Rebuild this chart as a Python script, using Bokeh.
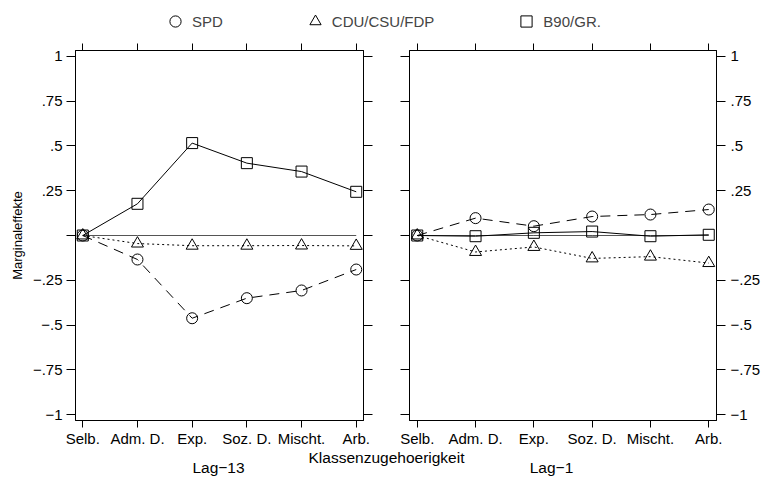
from bokeh.plotting import figure
from bokeh.models import (Range1d, FixedTicker, LinearAxis, Legend, LegendItem, Label)
from bokeh.layouts import column, row
from bokeh.embed import file_html
from bokeh.resources import INLINE

# ---------------- data ----------------
categories = ["Selb.", "Adm. D.", "Exp.", "Soz. D.", "Mischt.", "Arb."]
panel_titles = ["Lag\u221213", "Lag\u22121"]
series_names = ["SPD", "CDU/CSU/FDP", "B90/GR."]

lag13_spd = [0.0, -0.134, -0.462, -0.350, -0.307, -0.190]
lag13_cdu = [0.0, -0.045, -0.057, -0.057, -0.056, -0.058]
lag13_b90 = [0.0, 0.177, 0.516, 0.404, 0.357, 0.244]

lag1_spd = [0.0, 0.097, 0.052, 0.106, 0.117, 0.145]
lag1_cdu = [0.0, -0.092, -0.064, -0.128, -0.118, -0.154]
lag1_b90 = [0.0, -0.004, 0.015, 0.022, -0.004, 0.004]

reference = [0.0, 0.0, 0.0, 0.0, 0.0, 0.0]

y_ticks = [-1, -0.75, -0.5, -0.25, 0, 0.25, 0.5, 0.75, 1]
y_tick_labels = ["\u22121", "\u2212.75", "\u2212.5", "\u2212.25", "", ".25", ".5", ".75", "1"]

x_label = "Klassenzugehoerigkeit"
y_label = "Marginaleffekte"

FONT = "Liberation Sans"
xs = list(range(len(categories)))
nan = float("nan")


def style_axis(ax, tick_out, labels=None, size="15px", standoff=2):
    ax.axis_line_color = "black"
    ax.major_tick_line_color = "black"
    ax.major_tick_in = 0
    ax.major_tick_out = tick_out
    ax.minor_tick_line_color = None
    ax.major_label_standoff = standoff
    ax.major_label_text_font = FONT
    ax.major_label_text_color = "black"
    if labels is None:
        ax.major_label_text_font_size = "0px"
        ax.major_label_standoff = 0
    else:
        ax.major_label_text_font_size = size


def make_panel(spd, cdu, b90, width, min_left, min_right, left_labels, right_labels,
               right_zero=True):
    p = figure(width=width, height=410,
               x_range=Range1d(-0.133, 5.133), y_range=Range1d(-1.033, 1.033),
               min_border_left=min_left, min_border_right=min_right,
               min_border_top=10, min_border_bottom=30,
               x_axis_location=None, y_axis_location=None,
               toolbar_location=None, output_backend="svg",
               outline_line_color="black", background_fill_color="white",
               border_fill_color="white")
    p.grid.visible = False

    xlab = {i: c for i, c in enumerate(categories)}
    xempty = {i: "" for i in xs}
    ylab = {t: l for t, l in zip(y_ticks, y_tick_labels)}
    yempty = {t: "" for t in y_ticks}

    below = LinearAxis(ticker=FixedTicker(ticks=xs), major_label_overrides=xlab)
    style_axis(below, 7, labels=True, size="15px", standoff=2)
    above = LinearAxis(ticker=FixedTicker(ticks=xs), major_label_overrides=xempty)
    style_axis(above, 7)

    left_ticks = y_ticks
    right_ticks = y_ticks if right_zero else [t for t in y_ticks if t != 0]
    left = LinearAxis(ticker=FixedTicker(ticks=left_ticks),
                      major_label_overrides=ylab if left_labels else yempty)
    style_axis(left, 9, labels=True if left_labels else None, size="15px", standoff=4)
    right = LinearAxis(ticker=FixedTicker(ticks=right_ticks),
                       major_label_overrides=ylab if right_labels else yempty)
    style_axis(right, 9, labels=True if right_labels else None, size="15px", standoff=5)

    p.add_layout(below, "below")
    p.add_layout(above, "above")
    p.add_layout(left, "left")
    p.add_layout(right, "right")

    p.line(xs, reference, line_color="#555555", line_width=1)

    p.line(xs, spd, line_color="black", line_width=1, line_dash="10 7")
    p.scatter(xs, spd, marker="circle", size=11, fill_color=None,
              line_color="black", line_width=1)
    p.line(xs, cdu, line_color="black", line_width=1, line_dash="2 3")
    p.scatter(xs, cdu, marker="triangle", size=12, fill_color=None,
              line_color="black", line_width=1)
    p.line(xs, b90, line_color="black", line_width=1)
    p.scatter(xs, b90, marker="square", size=11, fill_color=None,
              line_color="black", line_width=1)
    return p, left


p1, p1_left = make_panel(lag13_spd, lag13_cdu, lag13_b90, 386, 75, 23,
                         left_labels=True, right_labels=False, right_zero=True)
p1_left.axis_label = y_label
p1_left.axis_label_text_font = FONT
p1_left.axis_label_text_font_size = "13px"
p1_left.axis_label_text_font_style = "normal"
p1_left.axis_label_text_color = "black"
p1_left.axis_label_standoff = 5

p2, _ = make_panel(lag1_spd, lag1_cdu, lag1_b90, 380, 23, 50,
                   left_labels=False, right_labels=True, right_zero=False)

# ---------------- legend strip ----------------
lf = figure(width=766, height=40, min_border=0, x_axis_location=None,
            y_axis_location=None, toolbar_location=None, output_backend="svg",
            outline_line_color=None, x_range=Range1d(0, 1), y_range=Range1d(0, 1))
lf.grid.visible = False
markers = ["circle", "triangle", "square"]
items = []
for name, m in zip(series_names, markers):
    r = lf.scatter(x=[nan], y=[nan], marker=m, fill_color=None, line_color="black",
                   line_width=1, size=11)
    items.append(LegendItem(label=name, renderers=[r]))
legend = Legend(items=items, orientation="horizontal", location=(161, 5),
                spacing=78, padding=0, margin=0, glyph_width=28, glyph_height=28,
                label_standoff=3, label_text_font=FONT, label_text_font_size="15px",
                border_line_color=None, background_fill_alpha=0)
lf.add_layout(legend)

# ---------------- caption strip ----------------
cf = figure(width=766, height=31, min_border=0, x_axis_location=None,
            y_axis_location=None, toolbar_location=None, output_backend="svg",
            outline_line_color=None, x_range=Range1d(0, 1), y_range=Range1d(0, 1))
cf.grid.visible = False
cf.add_layout(Label(x=386, y=24, x_units="screen", y_units="screen", text=x_label,
                    text_align="center", text_baseline="alphabetic",
                    text_font=FONT, text_font_size="15.5px", text_color="black"))
cf.add_layout(Label(x=218, y=14, x_units="screen", y_units="screen", text=panel_titles[0],
                    text_align="center", text_baseline="alphabetic",
                    text_font=FONT, text_font_size="15.5px", text_color="black"))
cf.add_layout(Label(x=551, y=14, x_units="screen", y_units="screen", text=panel_titles[1],
                    text_align="center", text_baseline="alphabetic",
                    text_font=FONT, text_font_size="15.5px", text_color="black"))

layout = column(lf, row(p1, p2, spacing=0), cf, spacing=0)
open("out.html", "w").write(file_html(layout, INLINE))
